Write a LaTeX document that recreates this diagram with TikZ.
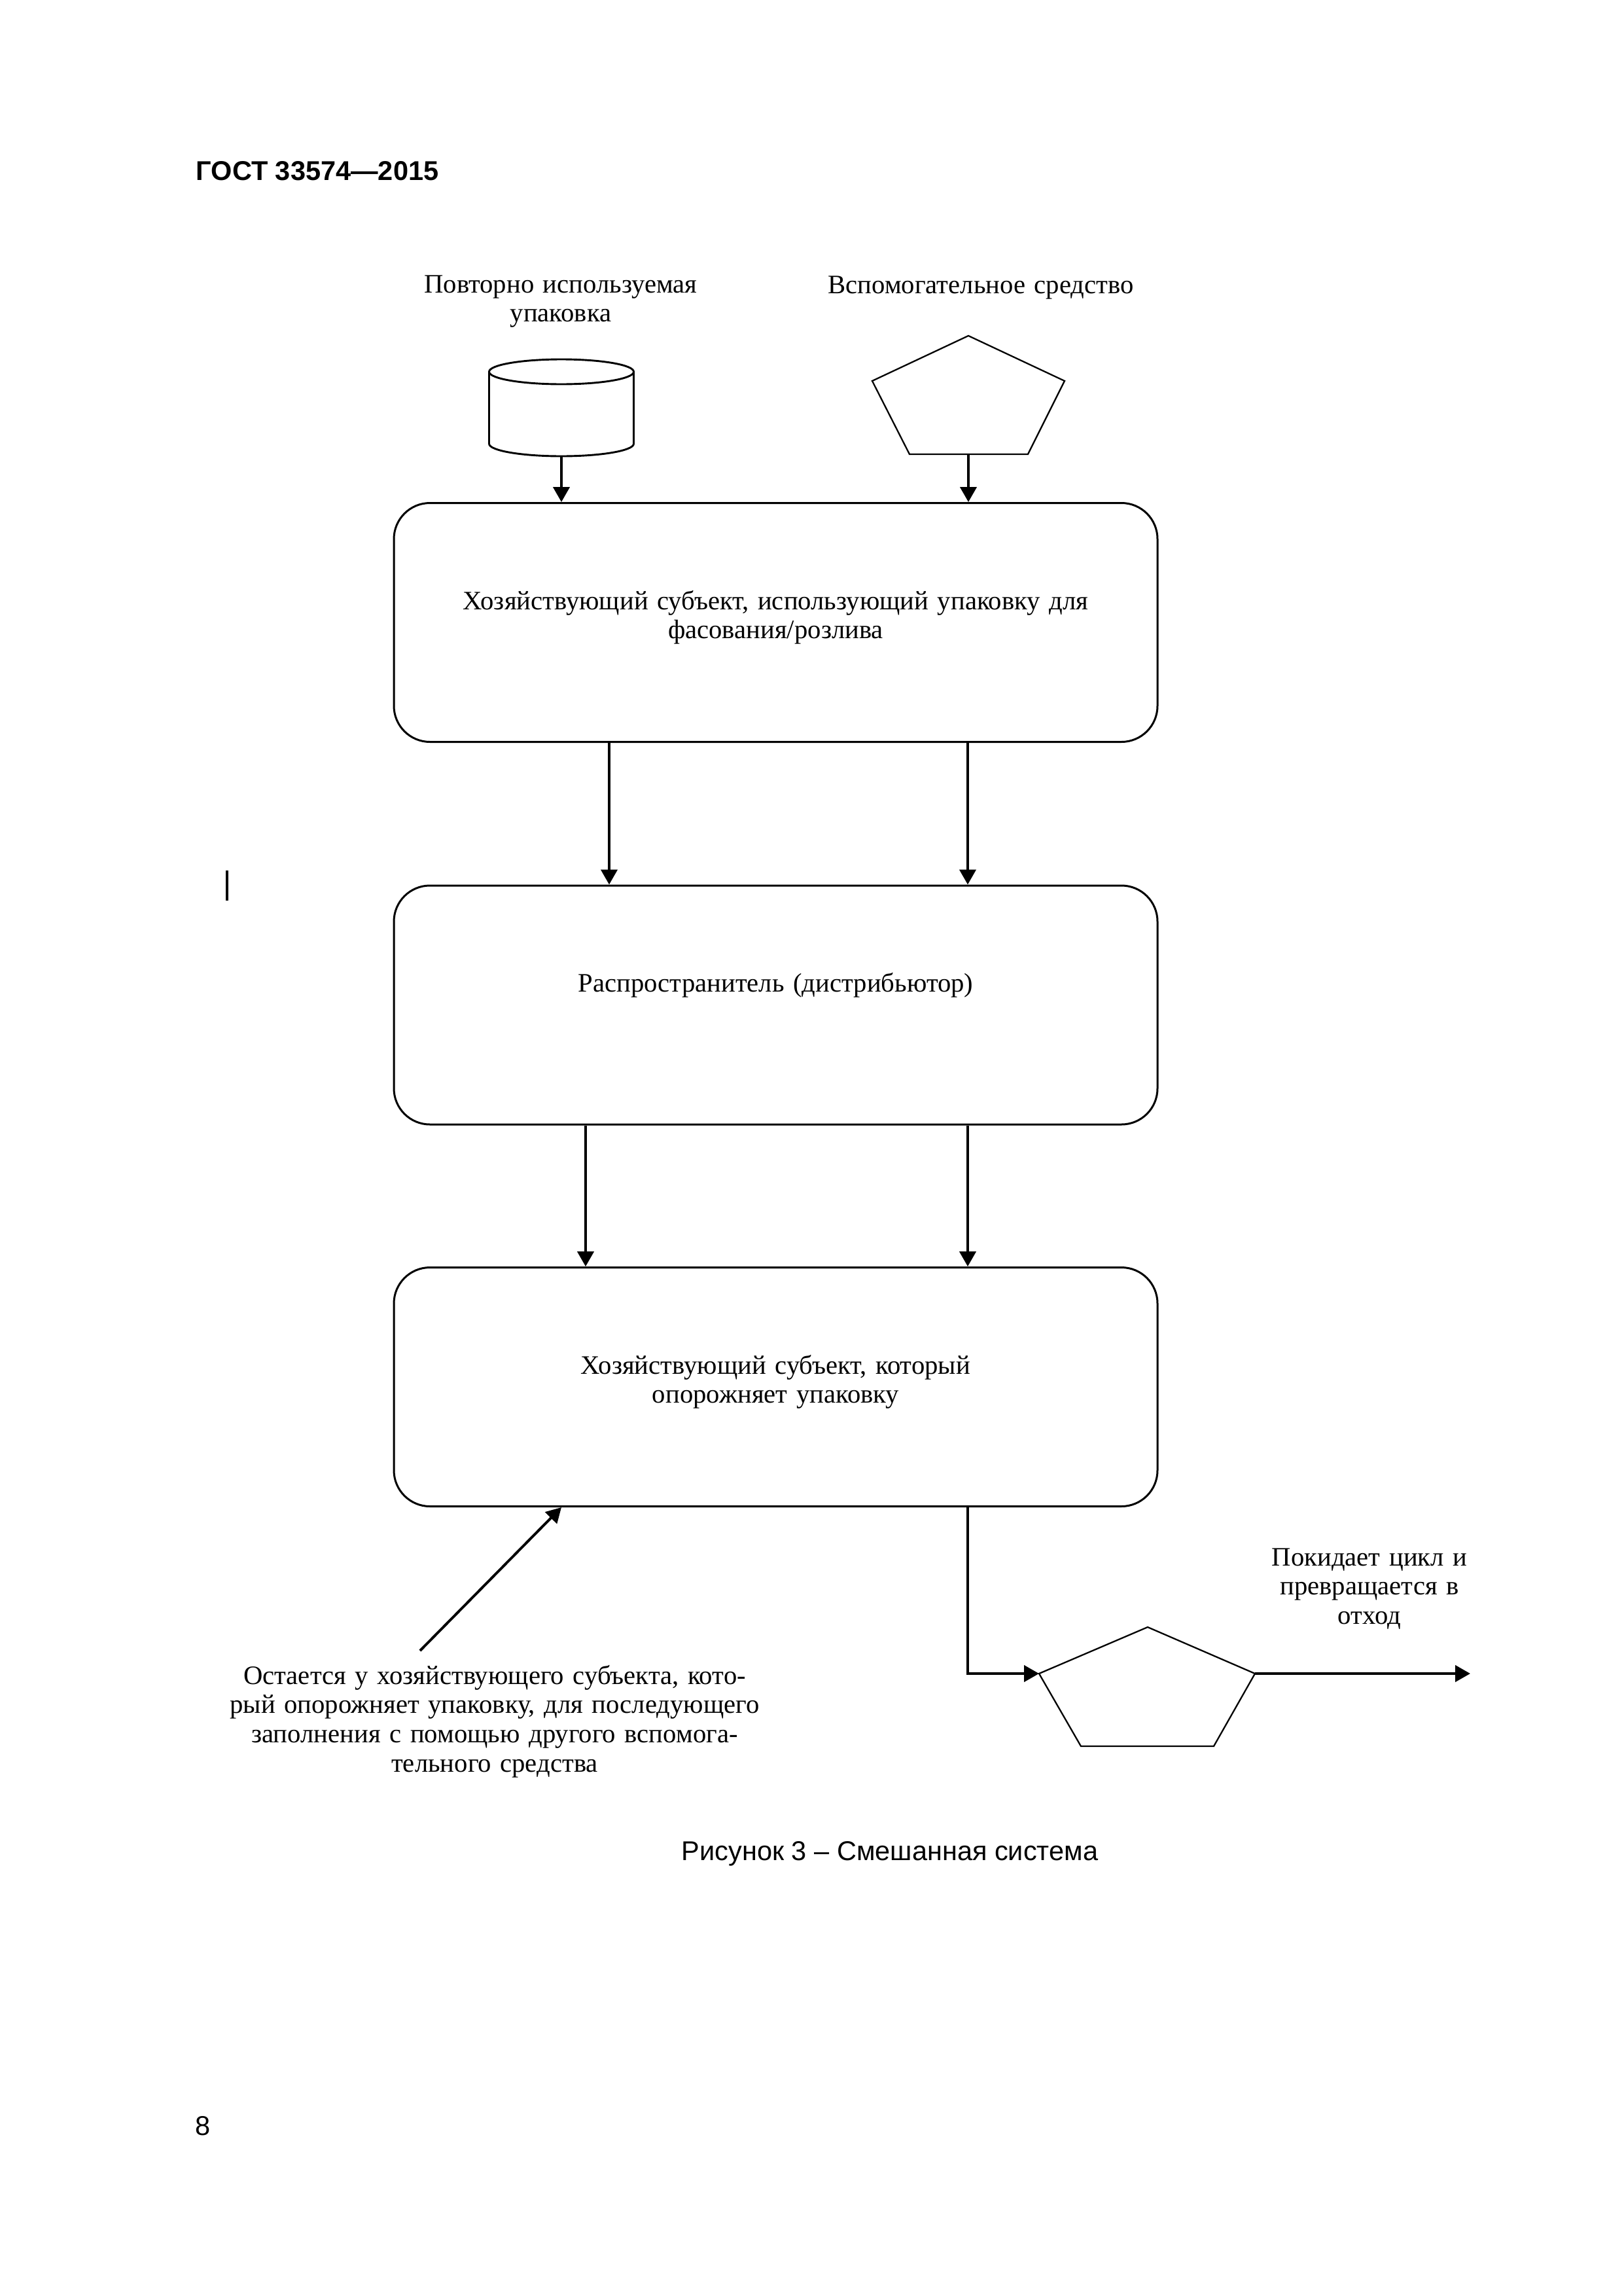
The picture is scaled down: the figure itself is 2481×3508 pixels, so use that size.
\documentclass[tikz,border=0pt]{standalone}
\usepackage{fontspec}
\setmainfont{Liberation Serif}
\newfontfamily\sansf{Liberation Sans}
\usetikzlibrary{arrows.meta,calc}
\def\pxu{0.0846433mm}
\begin{document}
\begin{tikzpicture}[x=\pxu, y=-\pxu,
  box/.style={draw, line width=0.72pt, rounded corners=4.66mm, inner sep=0pt,
    minimum width={1167*\pxu}, minimum height={365*\pxu}},
  flow/.style={line width=0.95pt, -{Triangle[width=6pt,length=5.5pt]}},
  lbl/.style={font=\fontsize{9.8pt}{10.8pt}\selectfont, inner sep=0pt, align=center,
    text width={1150*\pxu}, anchor=base},
  shapeline/.style={line width=0.55pt, line join=miter},
  pagetext/.style={font=\sansf\fontsize{10pt}{12pt}\selectfont, inner sep=0pt}
]
\useasboundingbox (0,0) rectangle (2481,3508);

% page furniture
\node[pagetext, font=\sansf\bfseries\fontsize{10pt}{12pt}\selectfont, anchor=base west] (hdr) at (299,275) {ГОСТ 33574—2015};
\node[pagetext, anchor=base] (cap) at (1360,2842) {Рисунок 3 – Смешанная система};
\node[pagetext, anchor=base west] (pnum) at (298,3262) {8};
\draw[line width=0.8pt] (347,1330) -- (347,1376);

% top labels
\node[lbl] (lab1) at (857,447) {Повторно используемая\\упаковка};
\node[lbl] (lab2) at (1499,448) {Вспомогательное средство};

% cylinder
\draw[line width=0.7pt] (858,568) ellipse[x radius=110.5, y radius=19];
\draw[line width=0.7pt] (747.5,568) -- (747.5,678) arc[start angle=180, end angle=0, x radius=110.5, y radius=19] -- (968.5,568);
\coordinate (cylb) at (858,697);

% pentagon 1
\coordinate (p1t) at (1480,513);
\coordinate (p1r) at (1627,582);
\coordinate (p1br) at (1571,694);
\coordinate (p1bl) at (1390,694);
\coordinate (p1l) at (1333,582);
\coordinate (p1b) at (1480,694);
\draw[shapeline] (p1t) -- (p1r) -- (p1br) -- (p1bl) -- (p1l) -- cycle;

% boxes
\node[box] (b1) at (1185.5,951) {};
\node[box] (b2) at (1185.5,1535.5) {};
\node[box] (b3) at (1185.5,2119) {};
\node[lbl] (t1) at (1185.5,931) {Хозяйствующий субъект, использующий упаковку для\\фасования/розлива};
\node[lbl] (t2) at (1185.5,1515) {Распространитель (дистрибьютор)};
\node[lbl] (t3) at (1185.5,2099) {Хозяйствующий субъект, который\\опорожняет упаковку};

% pentagon 2
\coordinate (p2t) at (1754,2486);
\coordinate (p2r) at (1918,2557);
\coordinate (p2br) at (1855,2668);
\coordinate (p2bl) at (1652,2668);
\coordinate (p2l) at (1588,2557);
\draw[shapeline] (p2t) -- (p2r) -- (p2br) -- (p2bl) -- (p2l) -- cycle;

% side texts
\node[lbl] (lab3) at (2093,2392) {Покидает цикл и\\превращается в\\отход};
\node[lbl] (lab4) at (756,2573) {Остается у хозяйствующего субъекта, кото-\\рый опорожняет упаковку, для последующего\\заполнения с помощью другого вспомога-\\тельного средства};

\coordinate (wasteend) at (2247,2557);
\coordinate (diagtail) at (642,2522);

% connectors
\draw[flow] (cylb) -- (cylb |- b1.north);
\draw[flow] (p1b) -- (p1b |- b1.north);
\draw[flow] ($(b1.south)+(-254.5,0)$) -- ($(b2.north)+(-254.5,0)$);
\draw[flow] ($(b1.south)+(293.5,0)$) -- ($(b2.north)+(293.5,0)$);
\draw[flow] ($(b2.south)+(-290.5,0)$) -- ($(b3.north)+(-290.5,0)$);
\draw[flow] ($(b2.south)+(293.5,0)$) -- ($(b3.north)+(293.5,0)$);
\draw[flow] ($(b3.south)+(293.5,0)$) |- (p2l);
\draw[flow] (p2r) -- (wasteend);
\draw[flow] (diagtail) -- ($(b3.south)+(-327.5,0)$);
\end{tikzpicture}
\end{document}
